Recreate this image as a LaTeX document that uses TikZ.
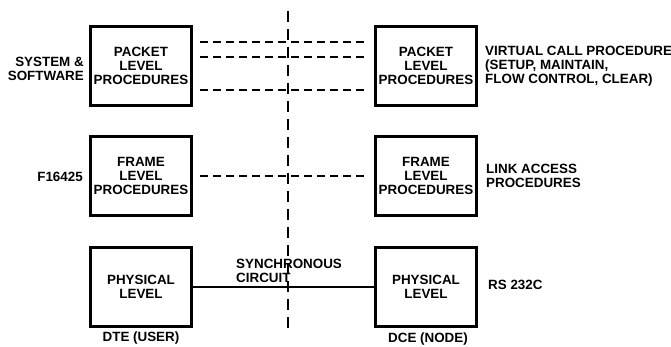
\documentclass[tikz,border=0pt]{standalone}
\usepackage{fontspec}
\setmainfont{Liberation Sans}
\begin{document}
\begin{tikzpicture}[x=1pt,y=-1pt,
  every node/.style={font=\fontsize{13.4}{14}\selectfont\bfseries, inner sep=0pt},
  levelbox/.style={draw, line width=3pt, minimum width=101pt, minimum height=79pt, align=center},
  dashline/.style={line width=1.6pt, dash pattern=on 8pt off 5pt, shorten <=7pt, shorten >=6pt},
  vline/.style={line width=1.5pt, dash pattern=on 11pt off 7pt},
  lbl/.style={align=left, anchor=west},
  rlbl/.style={align=right, anchor=east}]
\useasboundingbox (0,0) rectangle (671,346);
% boxes
\node[levelbox] (pl) at (141,66) {PACKET\\LEVEL\\PROCEDURES};
\node[levelbox] (pr) at (426,66) {PACKET\\LEVEL\\PROCEDURES};
\node[levelbox] (fl) at (141,176) {FRAME\\LEVEL\\PROCEDURES};
\node[levelbox] (fr) at (426,176) {FRAME\\LEVEL\\PROCEDURES};
\node[levelbox] (hl) at (141,287) {PHYSICAL\\LEVEL};
\node[levelbox] (hr) at (426,287) {PHYSICAL\\LEVEL};
% vertical dashed divider
\coordinate (vtop) at (288,11);
\coordinate (vbot) at (288,328);
\draw[vline] (vtop) -- (vbot);
% connectors
\draw[dashline] ([yshift=-17pt]pl.north east) -- ([yshift=-17pt]pr.north west);
\draw[dashline] ([yshift=-32pt]pl.north east) -- ([yshift=-32pt]pr.north west);
\draw[dashline] ([yshift=-65pt]pl.north east) -- ([yshift=-65pt]pr.north west);
\draw[dashline] (fl.east) -- (fr.west);
\draw[line width=1.1pt] (hl.east) -- (hr.west);
% labels
\node[rlbl] (sys) at (84,69) {SYSTEM \&\\SOFTWARE};
\node[rlbl] (fig) at (83,177) {F16425};
\node[lbl] (vc) at (485,66) {VIRTUAL CALL PROCEDURE\\(SETUP, MAINTAIN,\\FLOW CONTROL, CLEAR)};
\node[lbl] (la) at (486,176) {LINK ACCESS\\PROCEDURES};
\node[lbl] (rs) at (488,285) {RS 232C};
\node[lbl] (sc) at (236,271) {SYNCHRONOUS\\CIRCUIT};
\node (dte) at (141,338) {DTE (USER)};
\node (dce) at (428,339) {DCE (NODE)};
\end{tikzpicture}
\end{document}
